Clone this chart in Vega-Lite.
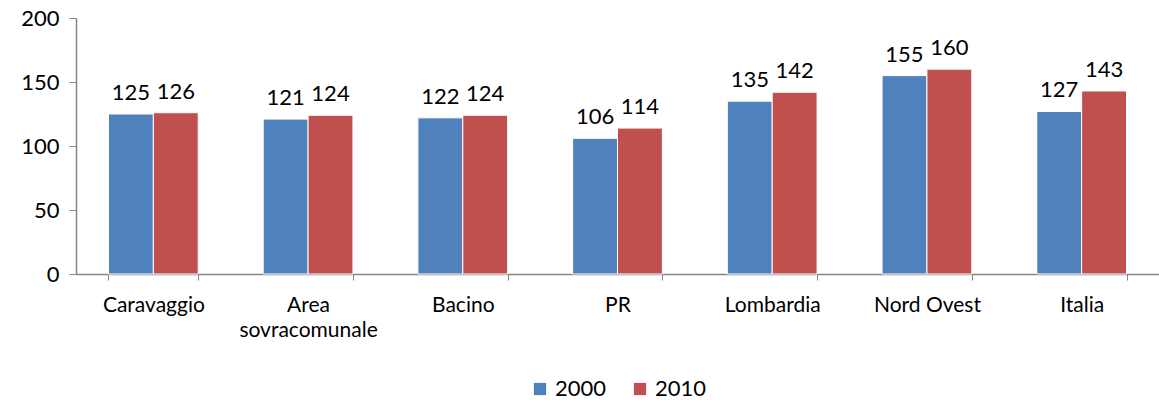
{
  "$schema": "https://vega.github.io/schema/vega-lite/v6.json",
  "autosize": {"type": "fit", "contains": "padding"},
  "width": 1159,
  "height": 400,
  "padding": {"top": 7, "left": 20, "right": 0, "bottom": 0},
  "config": {
    "font": "Lato",
    "view": {"stroke": null},
    "legend": {"layout": {"bottom": {"anchor": "middle"}}}
  },
  "data": {
    "values": [
      {"area": "Caravaggio", "anno": "2000", "valore": 125},
      {"area": "Caravaggio", "anno": "2010", "valore": 126},
      {"area": "Area sovracomunale", "anno": "2000", "valore": 121},
      {"area": "Area sovracomunale", "anno": "2010", "valore": 124},
      {"area": "Bacino", "anno": "2000", "valore": 122},
      {"area": "Bacino", "anno": "2010", "valore": 124},
      {"area": "PR", "anno": "2000", "valore": 106},
      {"area": "PR", "anno": "2010", "valore": 114},
      {"area": "Lombardia", "anno": "2000", "valore": 135},
      {"area": "Lombardia", "anno": "2010", "valore": 142},
      {"area": "Nord Ovest", "anno": "2000", "valore": 155},
      {"area": "Nord Ovest", "anno": "2010", "valore": 160},
      {"area": "Italia", "anno": "2000", "valore": 127},
      {"area": "Italia", "anno": "2010", "valore": 143}
    ]
  },
  "encoding": {
    "x": {
      "field": "area",
      "type": "nominal",
      "sort": null,
      "title": null,
      "scale": {"paddingInner": 0.42, "paddingOuter": 0.21},
      "axis": {
        "labelAngle": 0,
        "labelFontSize": 21,
        "labelColor": "#000000",
        "labelPadding": 14,
        "labelLineHeight": 25,
        "labelExpr": "datum.label == 'Area sovracomunale' ? ['Area', 'sovracomunale'] : datum.label",
        "domainColor": "#868686",
        "domainWidth": 1.5,
        "tickColor": "#868686",
        "tickSize": 6,
        "tickBand": "extent",
        "grid": false
      }
    },
    "xOffset": {"field": "anno", "type": "nominal"},
    "y": {
      "field": "valore",
      "type": "quantitative",
      "title": null,
      "scale": {"domain": [0, 200]},
      "axis": {
        "values": [0, 50, 100, 150, 200],
        "labelFontSize": 22,
        "labelColor": "#000000",
        "labelPadding": 10,
        "domainColor": "#868686",
        "domainWidth": 1.5,
        "tickColor": "#868686",
        "tickSize": 7,
        "grid": false
      }
    }
  },
  "layer": [
    {
      "mark": {"type": "bar", "stroke": "#ffffff", "strokeWidth": 1},
      "encoding": {
        "color": {
          "field": "anno",
          "type": "nominal",
          "title": null,
          "scale": {"domain": ["2000", "2010"], "range": ["#4F81BD", "#C0504D"]},
          "legend": {
            "orient": "bottom",
            "direction": "horizontal",
            "symbolType": "square",
            "symbolSize": 150,
            "symbolStrokeWidth": 0,
            "labelFontSize": 22,
            "labelColor": "#000000",
            "columnPadding": 22,
            "offset": 38
          }
        }
      }
    },
    {
      "mark": {"type": "text", "baseline": "bottom", "dy": -9, "fontSize": 22, "color": "#000000"},
      "encoding": {
        "text": {"field": "valore", "type": "quantitative"}
      }
    }
  ]
}
